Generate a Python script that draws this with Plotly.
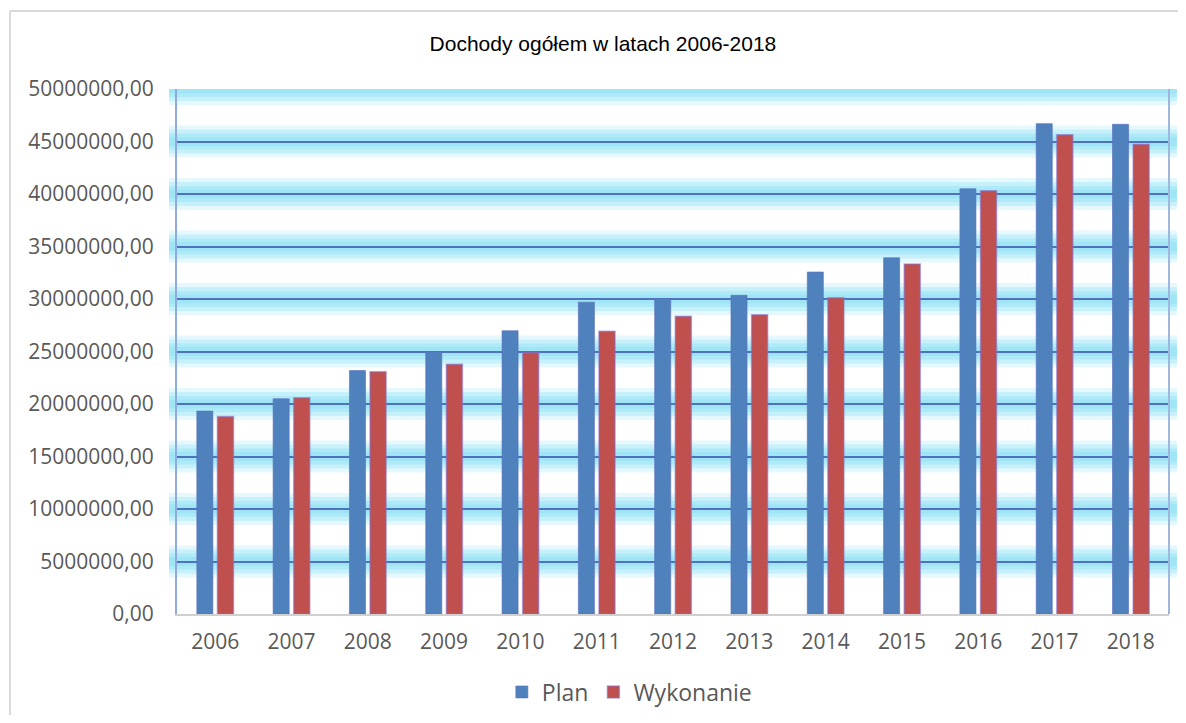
import plotly.graph_objects as go

years = ["2006", "2007", "2008", "2009", "2010", "2011", "2012",
         "2013", "2014", "2015", "2016", "2017", "2018"]
plan = [19330000, 20500000, 23190000, 24970000, 26980000, 29700000, 30030000,
        30350000, 32570000, 33930000, 40500000, 46700000, 46640000]
wykonanie = [18800000, 20600000, 23060000, 23790000, 24900000, 26940000, 28350000,
             28500000, 30120000, 33330000, 40300000, 45650000, 44730000]
y_ticks = [0, 5000000, 10000000, 15000000, 20000000, 25000000,
           30000000, 35000000, 40000000, 45000000, 50000000]
y_tick_text = ["0,00", "5000000,00", "10000000,00", "15000000,00", "20000000,00",
               "25000000,00", "30000000,00", "35000000,00", "40000000,00",
               "45000000,00", "50000000,00"]

fig = go.Figure()
fig.add_trace(go.Bar(name="Plan", x=years, y=plan,
                     marker=dict(color="#4F81BD",
                                 line=dict(color="rgba(90,110,190,0.6)", width=1))))
fig.add_trace(go.Bar(name="Wykonanie", x=years, y=wykonanie,
                     marker=dict(color="#C0504D",
                                 line=dict(color="rgba(130,110,210,0.55)", width=1.5))))

# cyan glow behind gridlines
shapes = []
glow = [(32, "rgba(165,232,247,0.3)"), (24, "rgba(160,230,246,0.42)"),
        (16, "rgba(155,228,246,0.55)"), (9, "rgba(150,226,245,0.65)")]
for v in y_ticks[1:]:
    for w, c in glow:
        shapes.append(dict(type="line", xref="paper", yref="y", x0=-0.008, x1=1.008,
                           y0=v, y1=v, line=dict(color=c, width=w), layer="below"))
# outer frame
shapes.append(dict(type="line", xref="paper", yref="paper", x0=-0.1683, x1=1.02,
                   y0=1.1486, y1=1.1486, line=dict(color="#D9D9D9", width=2)))
shapes.append(dict(type="line", xref="paper", yref="paper", x0=-0.1683, x1=-0.1683,
                   y0=1.1486, y1=-0.21, line=dict(color="#D9D9D9", width=2)))
# right border of plot
shapes.append(dict(type="line", xref="paper", yref="paper", x0=1, x1=1,
                   y0=0, y1=1, line=dict(color="#9DB7DE", width=2)))

fig.update_layout(
    width=1170, height=707,
    margin=dict(l=169, r=9, t=81, b=101, autoexpand=False),
    paper_bgcolor="white", plot_bgcolor="white",
    title=dict(text="Dochody ogółem w latach 2006-2018", x=0.5085, xanchor="center",
               xref="container", y=0.949, yanchor="middle",
               font=dict(family="Liberation Sans, Arial", size=21, color="black")),
    barmode="group", bargap=0.46, bargroupgap=0.22,
    font=dict(family="Open Sans", size=21, color="#595959"),
    xaxis=dict(showgrid=False, showline=True, linecolor="#D0D0D0", linewidth=2,
               ticks="", ticklabelstandoff=8, tickfont=dict(size=21, color="#595959")),
    yaxis=dict(range=[0, 50000000], tickvals=y_ticks, ticktext=y_tick_text,
               showgrid=True, gridcolor="#4F72BE", gridwidth=2,
               showline=True, linecolor="#8FAADC", linewidth=2,
               zeroline=False, ticks="", ticklabelstandoff=17,
               tickfont=dict(size=21, color="#595959")),
    legend=dict(orientation="h", x=0.456, xanchor="center", y=-0.1486, yanchor="middle",
                font=dict(size=23, color="#595959"), itemwidth=30,
                traceorder="normal"),
    shapes=shapes,
    showlegend=True,
)

fig.write_html("out.html")
